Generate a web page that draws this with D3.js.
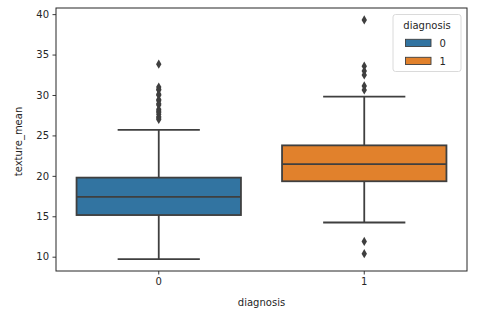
<!DOCTYPE html>
<html lang="en">
<head>
<meta charset="UTF-8">
<title>Box Plot</title>
<script src="https://cdn.jsdelivr.net/npm/d3@7/dist/d3.min.js"></script>
<style>
html, body { margin: 0; padding: 0; background: #fff; }
svg { display: block; }
text { font-family: 'DejaVu Sans', sans-serif; font-size: 10px; fill: #262626; }
</style>
</head>
<body>
<svg id="canvas"></svg>
<script>
let categories = ['0', '1']
let colors = ['#3274a1', '#e1812c']
let whiskerLow = [9.71, 14.23]
let q1 = [15.15, 19.33]
let median = [17.39, 21.46]
let q3 = [19.78, 23.77]
let whiskerHigh = [25.68, 29.81]
let outliers = [
    [33.81, 30.98, 30.72, 30.62, 30.1, 29.97, 29.43, 29.29, 28.92, 28.77, 28.23, 28.03, 27.88, 27.61, 27.3, 27.15, 26.97],
    [39.28, 33.56, 32.98, 32.47, 31.12, 30.62, 11.89, 10.38]
]
let yTicks = [10, 15, 20, 25, 30, 35, 40]

let width = 480
let height = 312
let margin = {top: 8, right: 13, bottom: 41, left: 56}
let lineColor = '#3f3f3f'

let svg = d3.select('svg')
    .attr('width', width)
    .attr('height', height)

let allValues = whiskerLow.concat(whiskerHigh, outliers.flat())
let lo = d3.min(allValues)
let hi = d3.max(allValues)
let pad = (hi - lo) * 0.05

let yScale = d3.scaleLinear()
    .domain([lo - pad, hi + pad])
    .range([height - margin.bottom, margin.top])

let xScale = d3.scaleBand()
    .domain(categories)
    .range([margin.left, width - margin.right])
    .paddingInner(0.2)
    .paddingOuter(0.1)

// boxes
categories.forEach((cat, i) => {
    let g = svg.append('g')
    let cx = xScale(cat) + xScale.bandwidth() / 2
    let x0 = xScale(cat)
    let x1 = x0 + xScale.bandwidth()
    let capHalf = xScale.bandwidth() / 4

    g.append('line')
        .attr('x1', cx).attr('x2', cx)
        .attr('y1', yScale(whiskerLow[i])).attr('y2', yScale(q1[i]))
        .attr('stroke', lineColor).attr('stroke-width', 1.8)
    g.append('line')
        .attr('x1', cx).attr('x2', cx)
        .attr('y1', yScale(q3[i])).attr('y2', yScale(whiskerHigh[i]))
        .attr('stroke', lineColor).attr('stroke-width', 1.8)
    g.append('line')
        .attr('x1', cx - capHalf).attr('x2', cx + capHalf)
        .attr('y1', yScale(whiskerLow[i])).attr('y2', yScale(whiskerLow[i]))
        .attr('stroke', lineColor).attr('stroke-width', 1.8)
    g.append('line')
        .attr('x1', cx - capHalf).attr('x2', cx + capHalf)
        .attr('y1', yScale(whiskerHigh[i])).attr('y2', yScale(whiskerHigh[i]))
        .attr('stroke', lineColor).attr('stroke-width', 1.8)

    g.append('rect')
        .attr('x', x0)
        .attr('y', yScale(q3[i]))
        .attr('width', x1 - x0)
        .attr('height', yScale(q1[i]) - yScale(q3[i]))
        .attr('fill', colors[i])
        .attr('stroke', lineColor).attr('stroke-width', 1.8)
    g.append('line')
        .attr('x1', x0).attr('x2', x1)
        .attr('y1', yScale(median[i])).attr('y2', yScale(median[i]))
        .attr('stroke', lineColor).attr('stroke-width', 1.8)

    g.selectAll('path.flier')
        .data(outliers[i])
        .enter()
        .append('path')
        .attr('class', 'flier')
        .attr('d', 'M0,-4.6L2.7,0L0,4.6L-2.7,0Z')
        .attr('transform', (d) => 'translate(' + cx + ',' + yScale(d) + ')')
        .attr('fill', lineColor)
})

// axes
let xAxis = svg.append('g')
    .attr('transform', 'translate(0,' + (height - margin.bottom) + ')')
    .call(d3.axisBottom(xScale).tickSize(3.5).tickPadding(3.5))
let yAxis = svg.append('g')
    .attr('transform', 'translate(' + margin.left + ',0)')
    .call(d3.axisLeft(yScale).tickValues(yTicks).tickSize(3.5).tickPadding(3.5))

;[xAxis, yAxis].forEach((ax) => {
    ax.select('.domain').remove()
    ax.selectAll('.tick line').attr('stroke', '#262626').attr('stroke-width', 0.9)
    ax.selectAll('.tick text').attr('font-size', 10).attr('font-family', 'DejaVu Sans').attr('fill', '#262626')
})

// frame
svg.append('rect')
    .attr('x', margin.left)
    .attr('y', margin.top)
    .attr('width', width - margin.left - margin.right)
    .attr('height', height - margin.top - margin.bottom)
    .attr('fill', 'none')
    .attr('stroke', '#262626')
    .attr('stroke-width', 1)

// axis labels
svg.append('text')
    .attr('x', (margin.left + width - margin.right) / 2)
    .attr('y', 305.5)
    .attr('text-anchor', 'middle')
    .text('diagnosis')
svg.append('text')
    .attr('transform', 'translate(21.5,' + ((margin.top + height - margin.bottom) / 2 + 2) + ') rotate(-90)')
    .attr('text-anchor', 'middle')
    .text('texture_mean')

// legend
let legend = svg.append('g')
legend.append('rect')
    .attr('x', 393).attr('y', 14.5)
    .attr('width', 68).attr('height', 57)
    .attr('rx', 2.5)
    .attr('fill', 'rgba(255,255,255,0.8)')
    .attr('stroke', '#d6d6d6')
    .attr('stroke-width', 0.9)
legend.append('text')
    .attr('x', 427).attr('y', 29)
    .attr('text-anchor', 'middle')
    .text('diagnosis')
categories.forEach((cat, i) => {
    legend.append('rect')
        .attr('x', 405.5).attr('y', 39.3 + i * 18)
        .attr('width', 25.5).attr('height', 7.2)
        .attr('fill', colors[i])
        .attr('stroke', lineColor).attr('stroke-width', 0.9)
    legend.append('text')
        .attr('x', 439.5).attr('y', 47 + i * 18)
        .text(cat)
})
</script>
</body>
</html>
